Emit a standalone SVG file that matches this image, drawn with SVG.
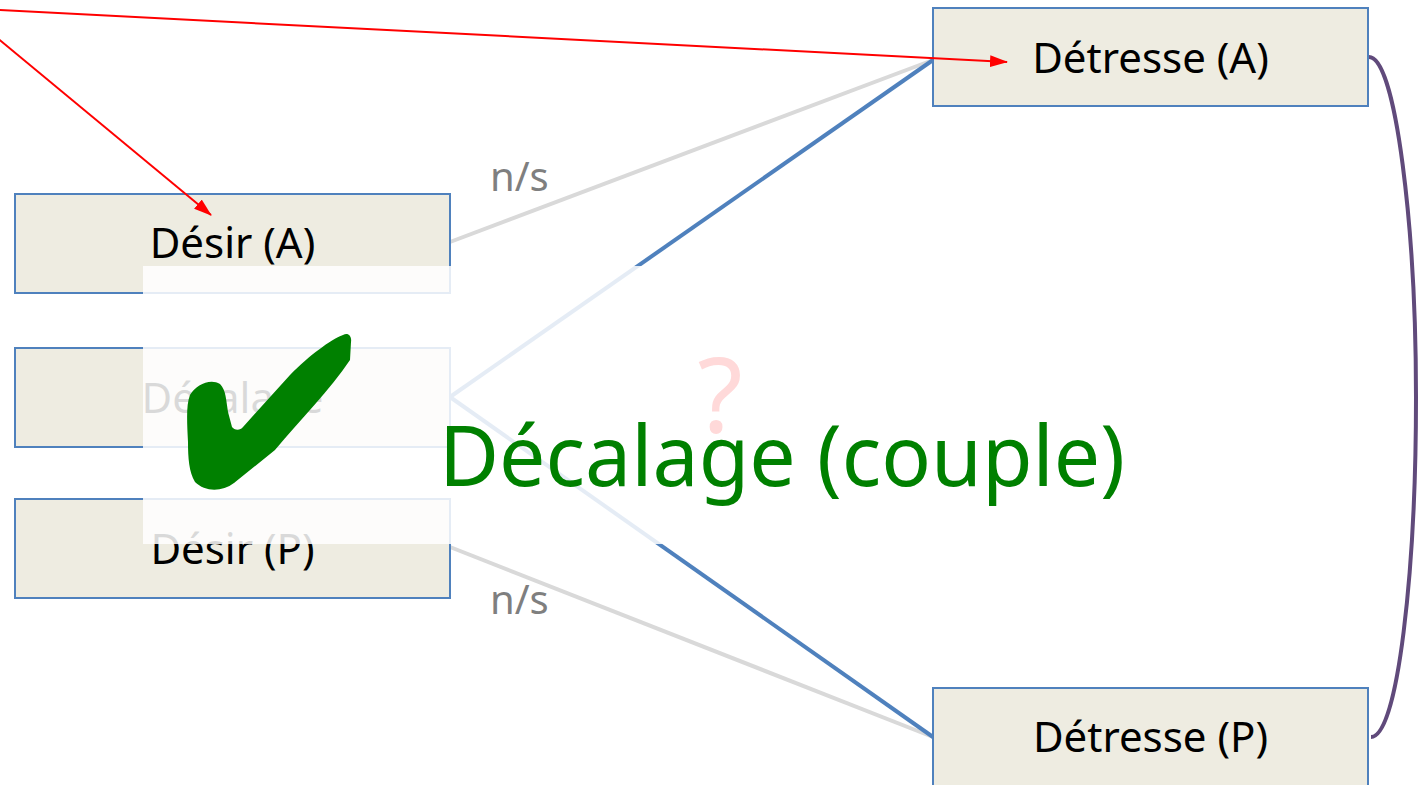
<svg xmlns="http://www.w3.org/2000/svg" width="1418" height="785" viewBox="0 0 1418 785">
  <defs>
    <marker id="redArrow" markerWidth="18" markerHeight="12" refX="17" refY="6" orient="auto" markerUnits="userSpaceOnUse">
      <path d="M0,0 L18,6 L0,12 Z" fill="#FF0000"/>
    </marker>
    <style>
      .box rect { fill: #EEECE1; stroke: #4F81BD; stroke-width: 2; }
      .box text { font-family: "Noto Sans", "Open Sans", sans-serif; font-size: 42px; fill: #000000; text-anchor: middle; }
      .gray { stroke: #D9D9D9; stroke-width: 4; fill: none; }
      .blue { stroke: #4F81BD; stroke-width: 4; fill: none; }
      .red { stroke: #FF0000; stroke-width: 2; fill: none; }
      .label { font-family: "Noto Sans", "Open Sans", sans-serif; font-size: 40px; fill: #7F7F7F; }
    </style>
  </defs>
  <rect x="0" y="0" width="1418" height="785" fill="#FFFFFF"/>

  <g id="connectors">
    <line class="gray" x1="450" y1="242" x2="933" y2="60"/>
    <line class="gray" x1="450" y1="547" x2="933" y2="737"/>
    <line class="blue" x1="450" y1="397" x2="933" y2="60"/>
    <line class="blue" x1="450" y1="397" x2="933" y2="737"/>
    <path d="M1369,57 C1396,57 1416,230 1416,397 C1416,570 1398,737 1371,737" stroke="#604A7B" stroke-width="4" fill="none"/>
  </g>

  <g id="desir-a" class="box">
    <rect x="15" y="194" width="435" height="99"/>
    <text x="232.5" y="258">Désir (A)</text>
  </g>
  <g id="decalage" class="box">
    <rect x="15" y="348" width="435" height="99"/>
    <text x="232.5" y="413">Décalage</text>
  </g>
  <g id="desir-p" class="box">
    <rect x="15" y="499" width="435" height="99"/>
    <text x="232.5" y="564">Désir (P)</text>
  </g>
  <g id="detresse-a" class="box">
    <rect x="933" y="8" width="435" height="98"/>
    <text x="1150.5" y="73">Détresse (A)</text>
  </g>
  <g id="detresse-p" class="box">
    <rect x="933" y="688" width="435" height="99"/>
    <text x="1150.5" y="752">Détresse (P)</text>
  </g>

  <g id="red-arrows">
    <line class="red" x1="-20" y1="9" x2="1007" y2="62" marker-end="url(#redArrow)"/>
    <line class="red" x1="-10" y1="32" x2="211" y2="215" marker-end="url(#redArrow)"/>
  </g>

  <g id="labels">
    <text class="label" x="490" y="191">n/s</text>
    <text class="label" x="490" y="614">n/s</text>
  </g>

  <text id="question" x="720" y="433" font-family="Noto Sans, Open Sans, sans-serif" font-size="104" fill="#FF0000" text-anchor="middle">?</text>

  <rect id="overlay" x="143" y="266" width="700" height="278" fill="#FFFFFF" fill-opacity="0.85"/>

  <path id="checkmark" fill="#008000" d="M343,335 C348,332 352,336 351,342 L350,360 C330,390 300,420 275,450 L234,483 C222,492 205,492 195,482 C189,472 188,458 188,442 C187,422 186,405 190,395 C196,385 210,378 220,384 C226,390 226,400 228,412 L232,427 C234,430 240,431 243,427 L290,375 C310,355 330,340 343,335 Z"/>

  <text id="big-title" x="439" y="486" font-family="Noto Sans, Open Sans, sans-serif" font-size="84" fill="#008000" textLength="686" lengthAdjust="spacingAndGlyphs">Décalage (couple)</text>
</svg>
